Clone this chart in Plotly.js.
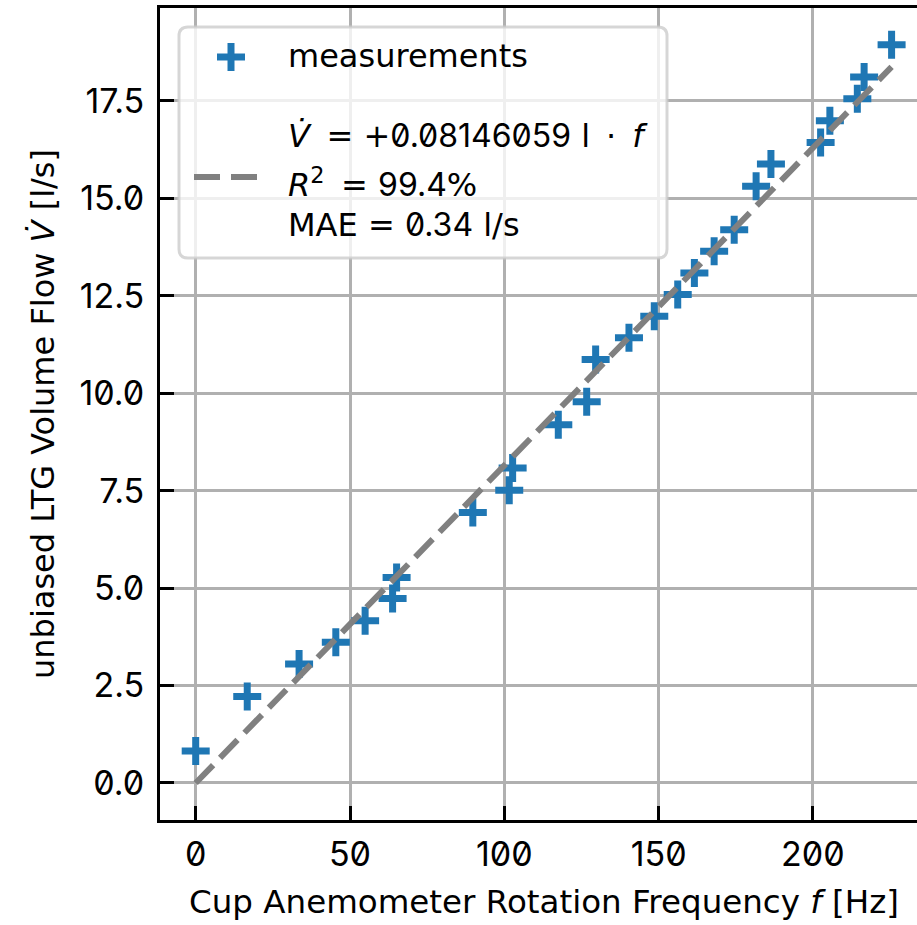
<!DOCTYPE html>
<html>
<head>
<meta charset="utf-8">
<script src="https://cdn.plot.ly/plotly-3.0.1.min.js"></script>
<style>
  html, body { margin: 0; padding: 0; overflow: hidden; background: #fff; }
  #chart { width: 928px; height: 925px; }
  text, tspan { font-feature-settings: "zero" 1; }
</style>
</head>
<body>
<div id="chart"></div>
<script>
// ---- data ----
const freqHz = [0, 16.7, 33.5, 45.4, 54.9, 63.8, 65.1, 89.8, 101.6, 102.7, 117.5, 126.7, 129.6,
                140.4, 148.6, 156.2, 161.6, 168.0, 174.5, 181.6, 186.4, 202.5, 205.5, 214.4, 216.6, 225.5];
const flowLs = [0.82, 2.22, 3.05, 3.61, 4.16, 4.73, 5.27, 6.94, 7.51, 8.08, 9.19, 9.78, 10.86,
                11.42, 11.97, 12.53, 13.08, 13.64, 14.19, 15.31, 15.88, 16.43, 16.99, 17.55, 18.11, 18.94];
const slope = 0.08146059;
const fitX = [0, 225.5];
const fitY = fitX.map(v => slope * v);
const xTicks = [0, 50, 100, 150, 200];
const yTicks = [0, 2.5, 5, 7.5, 10, 12.5, 15, 17.5];

const TXT = "'DejaVu Sans', sans-serif";
const NUM = "Inter, 'Noto Sans', sans-serif";
const num = s => `<span style="font-family:Inter">${s}</span>`;
const legendLabels = [
  "measurements",
  `<i>V̇</i>\u00A0\u2009= +${num("0.08146059")}\u00A0l\u2002·\u2002<i>f</i>`,
  `<i>R</i><sup>2</sup>\u00A0\u2009= ${num("99.4")}%`,
  `MAE = ${num("0.34")} l/s`
];

// ---- layout helpers (pixel -> paper) ----
const W = 928, H = 925, ML = 160, MR = 0, MT = 8, MB = 105;
const PW = W - ML - MR, PH = H - MT - MB;
const px = v => (v - ML) / PW;
const py = v => (H - MB - v) / PH;

const blue = "#1f77b4";

const traces = [
  {
    x: freqHz, y: flowLs, type: "scatter", mode: "markers", name: legendLabels[0],
    marker: { symbol: "cross-thin-open", size: 20, color: blue, line: { color: blue, width: 7 } },
    showlegend: false, hoverinfo: "skip"
  },
  {
    x: fitX, y: fitY, type: "scatter", mode: "lines", name: "fit",
    line: { color: "#808080", width: 6, dash: "25px,10px" },
    showlegend: false, hoverinfo: "skip"
  }
];

function roundRect(x0, y0, x1, y1, r) {
  const X0 = px(x0), X1 = px(x1), Y0 = py(y0), Y1 = py(y1);
  const rx = r / PW, ry = r / PH;
  return `M${X0 + rx},${Y0} L${X1 - rx},${Y0} Q${X1},${Y0} ${X1},${Y0 - ry} ` +
         `L${X1},${Y1 + ry} Q${X1},${Y1} ${X1 - rx},${Y1} L${X0 + rx},${Y1} ` +
         `Q${X0},${Y1} ${X0},${Y1 + ry} L${X0},${Y0 - ry} Q${X0},${Y0} ${X0 + rx},${Y0} Z`;
}

const shapes = [
  { type: "path", xref: "paper", yref: "paper", layer: "above",
    path: roundRect(179, 27, 667, 258, 9),
    fillcolor: "rgba(255,255,255,0.8)", line: { color: "rgba(204,204,204,0.8)", width: 3 } },
  { type: "line", xref: "paper", yref: "paper", layer: "above",
    x0: px(217), x1: px(245), y0: py(57), y1: py(57), line: { color: blue, width: 7 } },
  { type: "line", xref: "paper", yref: "paper", layer: "above",
    x0: px(231), x1: px(231), y0: py(43), y1: py(71), line: { color: blue, width: 7 } },
  { type: "line", xref: "paper", yref: "paper", layer: "above",
    x0: px(194), x1: px(268), y0: py(177), y1: py(177), line: { color: "#808080", width: 6, dash: "26px,11px" } }
];

function legText(t, yPix) {
  return { text: t, xref: "paper", yref: "paper", x: px(286), y: py(yPix), xanchor: "left", yanchor: "middle",
           showarrow: false, font: { family: TXT, size: 32, color: "#000" } };
}
const annotations = [
  legText(legendLabels[0], 56),
  legText(legendLabels[1], 135),
  legText(legendLabels[2], 183),
  legText(legendLabels[3], 224)
];

const axisCommon = {
  ticks: "inside", ticklen: 14, tickwidth: 3, tickcolor: "#000",
  showline: true, linewidth: 3, linecolor: "#000", mirror: true,
  showgrid: true, gridcolor: "#b0b0b0", gridwidth: 3, zeroline: false,
  tickfont: { family: NUM, size: 34, color: "#000" }
};

const layout = {
  width: W, height: H,
  margin: { l: ML, r: MR, t: MT, b: MB, pad: 0 },
  paper_bgcolor: "#fff", plot_bgcolor: "#fff",
  showlegend: false,
  xaxis: Object.assign({}, axisCommon, {
    range: [-11.57, 237.3], tickvals: xTicks, ticktext: xTicks.map(String),
    ticklabelstandoff: 2,
    title: { text: "Cup Anemometer Rotation Frequency <i>f</i> [Hz]", standoff: 18,
             font: { family: TXT, size: 32.5, color: "#000" } }
  }),
  yaxis: Object.assign({}, axisCommon, {
    range: [-0.95, 19.88], tickvals: yTicks, ticktext: yTicks.map(v => v.toFixed(1)),
    ticklabelstandoff: 6,
    title: { text: "unbiased LTG Volume Flow <i>V̇</i> [l/s]", standoff: 16,
             font: { family: TXT, size: 32, color: "#000" } }
  }),
  shapes: shapes,
  annotations: annotations
};

Plotly.newPlot("chart", traces, layout, { staticPlot: true, displayModeBar: false });
</script>
</body>
</html>
